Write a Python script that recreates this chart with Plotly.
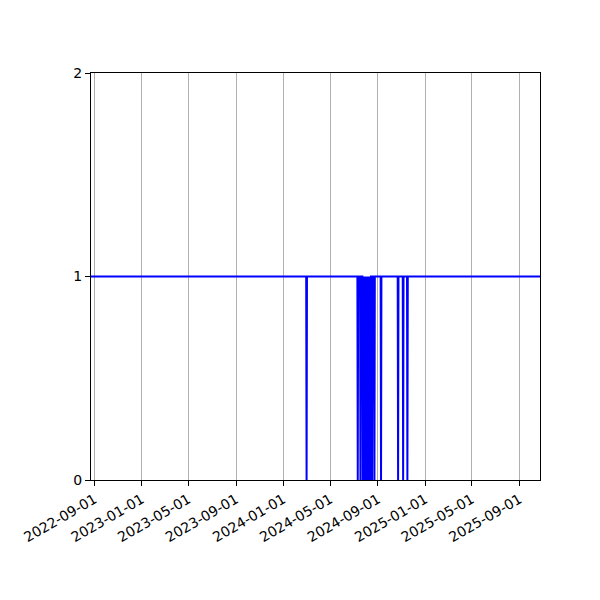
import plotly.graph_objects as go
import pandas as pd

# Series: value is 1 every day except on the listed "dip" dates, where it is 0
series_start = "2022-08-23"
series_end = "2025-10-24"
base_value = 1
dip_value = 0
single_dips = ["2024-03-01", "2024-07-11", "2024-07-18",
               "2024-08-17", "2024-08-23", "2024-09-09",
               "2024-10-23", "2024-11-05", "2024-11-16"]
dense_dips = ["2024-07-24", "2024-07-26", "2024-07-28", "2024-07-30",
              "2024-08-01", "2024-08-03", "2024-08-05", "2024-08-07",
              "2024-08-09", "2024-08-11", "2024-08-13"]
x_tick_start = "2022-09-01"
y_ticks = [0, 1, 2]

dips = sorted(pd.to_datetime(single_dips + dense_dips))
one_day = pd.Timedelta(days=1)
xs = [pd.Timestamp(series_start)]
ys = [base_value]
for d in dips:
    xs += [d - one_day, d, d + one_day]
    ys += [base_value, dip_value, base_value]
xs.append(pd.Timestamp(series_end))
ys.append(base_value)

fig = go.Figure()
fig.add_trace(go.Scatter(x=xs, y=ys, mode="lines",
                         line=dict(color="#0000ff", width=2, simplify=False),
                         showlegend=False))

font = dict(family="DejaVu Sans", size=14, color="black")
fig.update_layout(
    width=600, height=600,
    margin=dict(l=83, r=68, t=65, b=128),
    paper_bgcolor="white", plot_bgcolor="white",
    font=font,
    xaxis=dict(range=[series_start, series_end], type="date",
               tick0=x_tick_start, dtick="M4", tickformat="%Y-%m-%d",
               tickangle=-30, ticks="outside", ticklen=5, tickcolor="black",
               showgrid=True, gridcolor="#b0b0b0", gridwidth=1,
               showline=True, linecolor="black", linewidth=1, mirror=True,
               zeroline=False),
    yaxis=dict(range=[0, 2], tickvals=y_ticks, ticks="outside", ticklen=5,
               tickcolor="black", showgrid=False,
               showline=True, linecolor="black", linewidth=1, mirror=True,
               zeroline=False),
)
fig.write_html("out.html")
